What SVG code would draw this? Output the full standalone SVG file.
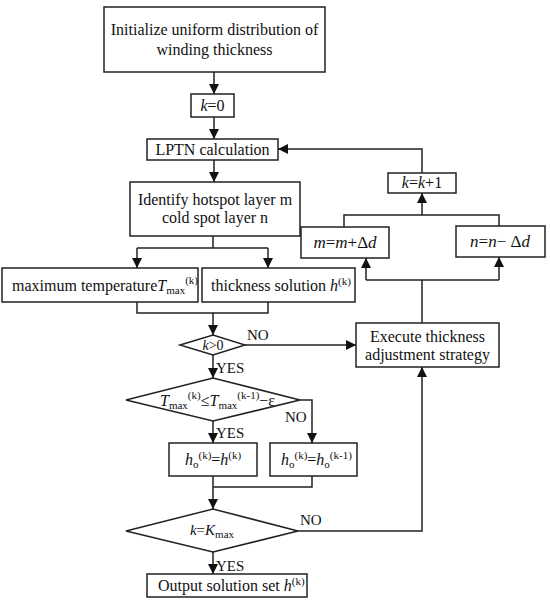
<svg xmlns="http://www.w3.org/2000/svg" width="550" height="602" viewBox="0 0 550 602">
<style>
.box{fill:#fff;stroke:#222;stroke-width:1.5}
.ln{fill:none;stroke:#222;stroke-width:1.5}
text{font-family:'Liberation Serif','DejaVu Serif',serif;font-size:16px;fill:#111}
.c{text-anchor:middle}
.i{font-style:italic}
.s{font-size:11px}
.lbl{font-size:15px}
</style>
<defs>
<marker id="ah" viewBox="0 0 10 10" refX="10" refY="5" markerWidth="10" markerHeight="10" markerUnits="userSpaceOnUse" orient="auto">
<path d="M0,0 L10,5 L0,10 z" fill="#111"/>
</marker>
</defs>
<rect width="550" height="602" fill="#fff"/>
<g id="connectors">
<path class="ln" d="M214,72 V94" marker-end="url(#ah)"/>
<path class="ln" d="M214,117 V139" marker-end="url(#ah)"/>
<path class="ln" d="M214,160 V182" marker-end="url(#ah)"/>
<path class="ln" d="M213,236 V248 M137,248 H268"/>
<path class="ln" d="M137,248 V268" marker-end="url(#ah)"/>
<path class="ln" d="M268,248 V268" marker-end="url(#ah)"/>
<path class="ln" d="M137,302 V313 H268 V302"/>
<path class="ln" d="M213,313 V335" marker-end="url(#ah)"/>
<path class="ln" d="M245,345 H356" marker-end="url(#ah)"/>
<path class="ln" d="M213,355 V378" marker-end="url(#ah)"/>
<path class="ln" d="M300,400 H312 V443" marker-end="url(#ah)"/>
<path class="ln" d="M213,421 V443" marker-end="url(#ah)"/>
<path class="ln" d="M213,476 V487 M312,476 V487 H213"/>
<path class="ln" d="M213,487 V509" marker-end="url(#ah)"/>
<path class="ln" d="M298,531 H422 V367" marker-end="url(#ah)"/>
<path class="ln" d="M213,552 V574" marker-end="url(#ah)"/>
<path class="ln" d="M422,323 V280 M366,280 H499"/>
<path class="ln" d="M366,280 V258" marker-end="url(#ah)"/>
<path class="ln" d="M499,280 V257" marker-end="url(#ah)"/>
<path class="ln" d="M344,227 V215 H499 V226"/>
<path class="ln" d="M422,215 V193" marker-end="url(#ah)"/>
<path class="ln" d="M422,173 V149 H278" marker-end="url(#ah)"/>
<text class="lbl" x="216" y="373">YES</text>
<text class="lbl" x="216" y="438">YES</text>
<text class="lbl" x="216" y="571">YES</text>
<text class="lbl" x="247" y="340">NO</text>
<text class="lbl" x="285" y="422">NO</text>
<text class="lbl" x="300" y="525">NO</text>
</g>
<g id="init">
<rect class="box" x="104" y="7" width="221" height="65"/>
<text class="c" x="214.5" y="35">Initialize uniform distribution of</text>
<text class="c" x="214.5" y="55">winding thickness</text>
</g>
<g id="k0">
<rect class="box" x="191" y="94" width="43" height="23"/>
<text class="c" x="212.5" y="111"><tspan class="i">k</tspan>=0</text>
</g>
<g id="lptn">
<rect class="box" x="147" y="139" width="131" height="21"/>
<text class="c" x="212.5" y="155">LPTN calculation</text>
</g>
<g id="identify">
<rect class="box" x="130" y="182" width="170" height="54"/>
<text class="c" x="215" y="205">Identify hotspot layer m</text>
<text class="c" x="215" y="223">cold spot layer n</text>
</g>
<g id="maxtemp">
<rect class="box" x="2" y="268" width="196" height="34"/>
<text x="12" y="291">maximum temperature<tspan class="i">T</tspan><tspan class="s" dy="3">max</tspan><tspan class="s" dy="-10">(k)</tspan></text>
</g>
<g id="thick">
<rect class="box" x="202" y="268" width="153" height="34"/>
<text x="211" y="291">thickness solution <tspan class="i">h</tspan><tspan class="s" dy="-6">(k)</tspan></text>
</g>
<g id="kgt0">
<polygon class="box" points="180,345 213,335 245,345 213,355"/>
<text class="c" x="213" y="350" style="font-size:14px"><tspan class="i">k</tspan>&gt;0</text>
</g>
<g id="tcmp">
<polygon class="box" points="126,400 213,378 300,400 213,421"/>
<text x="160" y="406"><tspan class="i">T</tspan><tspan class="s" dy="3">max</tspan><tspan class="s" dy="-10">(k)</tspan><tspan dy="7">≤</tspan><tspan class="i">T</tspan><tspan class="s" dy="3">max</tspan><tspan class="s" dy="-10">(k-1)</tspan><tspan dy="7">−ε</tspan></text>
</g>
<g id="ho1">
<rect class="box" x="169" y="443" width="88" height="33"/>
<text x="185" y="465"><tspan class="i">h</tspan><tspan class="s" dy="3">o</tspan><tspan class="s" dy="-9">(k)</tspan><tspan dy="6">=</tspan><tspan class="i">h</tspan><tspan class="s" dy="-6">(k)</tspan></text>
</g>
<g id="ho2">
<rect class="box" x="270" y="443" width="87" height="33"/>
<text x="281" y="465"><tspan class="i">h</tspan><tspan class="s" dy="3">o</tspan><tspan class="s" dy="-9">(k)</tspan><tspan dy="6">=</tspan><tspan class="i">h</tspan><tspan class="s" dy="3">o</tspan><tspan class="s" dy="-9">(k-1)</tspan></text>
</g>
<g id="kmax">
<polygon class="box" points="126,531 213,509 298,531 213,552"/>
<text class="c" x="212" y="535" style="font-size:15px"><tspan class="i">k</tspan>=<tspan class="i">K</tspan><tspan class="s" dy="3">max</tspan></text>
</g>
<g id="output">
<rect class="box" x="147" y="574" width="160" height="23"/>
<text x="158" y="591">Output solution set <tspan class="i">h</tspan><tspan class="s" dy="-6">(k)</tspan></text>
</g>
<g id="kinc">
<rect class="box" x="388" y="173" width="68" height="20"/>
<text class="c" x="422" y="188"><tspan class="i">k</tspan>=<tspan class="i">k</tspan>+1</text>
</g>
<g id="mbox">
<rect class="box" x="301" y="227" width="88" height="31"/>
<text class="c" x="345" y="248" style="font-size:17px"><tspan class="i">m</tspan>=<tspan class="i">m</tspan>+Δ<tspan class="i">d</tspan></text>
</g>
<g id="nbox">
<rect class="box" x="456" y="226" width="89" height="31"/>
<text class="c" x="500" y="247" style="font-size:17px"><tspan class="i">n</tspan>=<tspan class="i">n</tspan>− Δ<tspan class="i">d</tspan></text>
</g>
<g id="execute">
<rect class="box" x="356" y="323" width="143" height="44"/>
<text class="c" x="427.5" y="342">Execute thickness</text>
<text class="c" x="427.5" y="360">adjustment strategy</text>
</g>
</svg>
